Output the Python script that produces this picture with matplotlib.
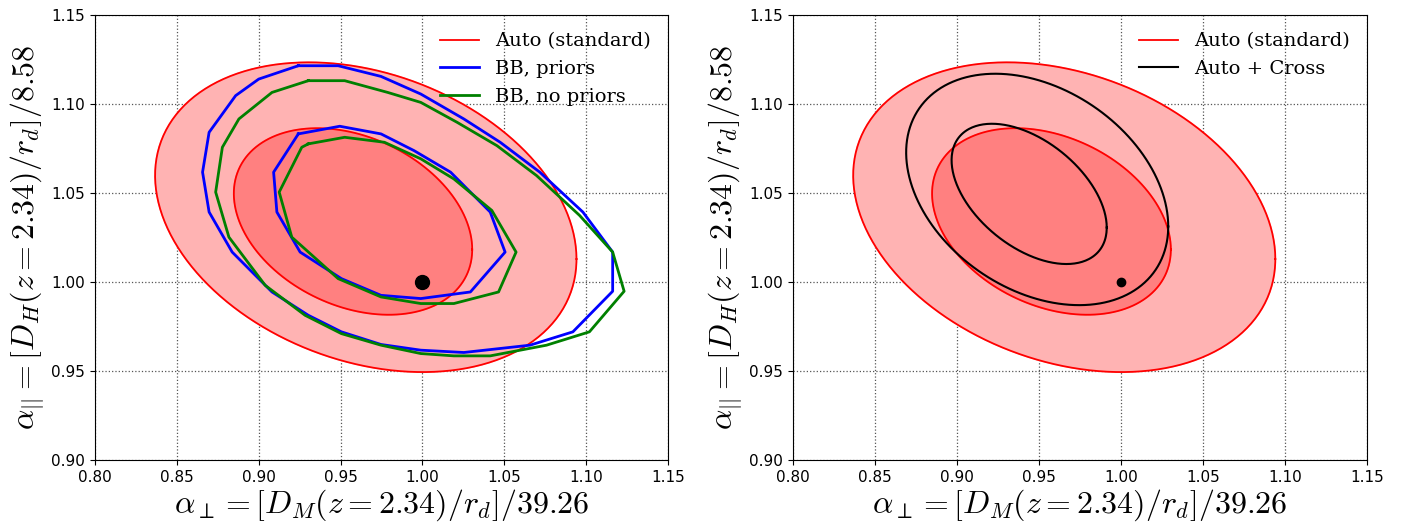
import numpy as np
import matplotlib
matplotlib.use("Agg")
import matplotlib.pyplot as plt

plt.rcParams['mathtext.fontset'] = 'cm'

# Gaussian-ellipse contours: (cx, cy, sx, sy, rho)
auto_outer = (0.9654, 1.0364, 0.1287, 0.0870, -0.27)
auto_inner = (0.9576, 1.0340, 0.0728, 0.0524, -0.30)
cross_outer = (0.9489, 1.0520, 0.0799, 0.0650, -0.32)
cross_inner = (0.9440, 1.0495, 0.0473, 0.0394, -0.48)

bb_pri_outer_x = [0.9242,0.9485,0.9747,0.999,1.0253,1.0475,1.0717,1.098,1.1162,1.1162,1.0919,1.0657,1.0253,0.999,0.9747,0.9505,0.9303,0.9081,0.8838,0.8697,0.8657,0.8697,0.8859,0.9,0.9242]
bb_pri_outer_y = [1.1215,1.1215,1.1155,1.1056,1.0916,1.0785,1.0617,1.0393,1.0168,0.9948,0.972,0.9645,0.9604,0.9617,0.9649,0.972,0.9813,0.9944,1.0168,1.0393,1.0617,1.0841,1.1047,1.114,1.1215]
bb_pri_inner_x = [0.9242,0.9495,0.9747,0.9949,1.0172,1.0414,1.0505,1.0293,0.999,0.9747,0.9505,0.9253,0.9111,0.9091,0.9242]
bb_pri_inner_y = [1.0832,1.0875,1.0832,1.0738,1.0617,1.0393,1.0168,0.9944,0.9907,0.9925,1.0019,1.0168,1.0393,1.0617,1.0832]
bb_nopri_outer_x = [0.9303,0.9525,0.9788,0.999,1.0212,1.0455,1.0697,1.096,1.1162,1.1232,1.102,1.0758,1.0414,1.0192,0.999,0.9747,0.9505,0.9283,0.904,0.8818,0.8737,0.8778,0.8879,0.9081,0.9303]
bb_nopri_outer_y = [1.1131,1.1131,1.1065,1.1009,1.0897,1.0766,1.0598,1.0374,1.0168,0.9948,0.972,0.9645,0.9585,0.9585,0.9598,0.9645,0.971,0.9813,0.9981,1.0252,1.0505,1.0757,1.0916,1.1065,1.1131]
bb_nopri_inner_x = [0.9303,0.9525,0.9768,0.999,1.0192,1.0424,1.0572,1.0465,1.0192,0.999,0.9747,0.9485,0.9202,0.9125,0.9263,0.9303]
bb_nopri_inner_y = [1.0776,1.0813,1.0785,1.0692,1.0579,1.0402,1.0168,0.9944,0.9879,0.9879,0.9916,1.0019,1.0252,1.0505,1.0757,1.0776]

fid = (1.0, 1.0)
xticks = [0.80,0.85,0.90,0.95,1.00,1.05,1.10,1.15]
yticks = [0.90,0.95,1.00,1.05,1.10,1.15]
xlabel = r'$\alpha_{\perp}=[D_M(z=2.34)/r_d]/39.26$'
ylabel = r'$\alpha_{||}=[D_H(z=2.34)/r_d]/8.58$'

def ell(p, n=300):
    cx, cy, sx, sy, r = p
    t = np.linspace(0, 2*np.pi, n)
    return cx + sx*np.cos(t), cy + sy*(r*np.cos(t) + np.sqrt(1-r*r)*np.sin(t))

fig = plt.figure(figsize=(14.11, 5.24), dpi=100)
ax1 = fig.add_axes([95/1411, 64/524, 573/1411, 445/524])
ax2 = fig.add_axes([793/1411, 64/524, 574/1411, 445/524])

for ax in (ax1, ax2):
    xo, yo = ell(auto_outer); xi, yi = ell(auto_inner)
    ax.fill(xo, yo, color='#ffb3b3', zorder=1)
    ax.fill(xi, yi, color='#ff8080', zorder=1)
    ax.plot(xo, yo, color='red', lw=1.3, zorder=2, label='Auto (standard)')
    ax.plot(xi, yi, color='red', lw=1.3, zorder=2)
    ax.set_xlim(0.80, 1.15); ax.set_ylim(0.90, 1.15)
    ax.set_xticks(xticks); ax.set_yticks(yticks)
    ax.set_xticklabels([f'{v:.2f}' for v in xticks], fontsize=11)
    ax.set_yticklabels([f'{v:.2f}' for v in yticks], fontsize=11)
    ax.grid(True, linestyle=':', color='#555555', lw=0.9, zorder=0)
    ax.set_axisbelow(True)
    ax.set_xlabel(xlabel, fontsize=23, labelpad=2)
    ax.set_ylabel(ylabel, fontsize=23)

ax1.plot(bb_pri_outer_x, bb_pri_outer_y, color='blue', lw=2, zorder=3, label='BB, priors')
ax1.plot(bb_pri_inner_x, bb_pri_inner_y, color='blue', lw=2, zorder=3)
ax1.plot(bb_nopri_outer_x, bb_nopri_outer_y, color='green', lw=2, zorder=3, label='BB, no priors')
ax1.plot(bb_nopri_inner_x, bb_nopri_inner_y, color='green', lw=2, zorder=3)
ax1.plot(*fid, 'o', color='black', ms=10, zorder=4)

xo, yo = ell(cross_outer); xi, yi = ell(cross_inner)
ax2.plot(xo, yo, color='black', lw=1.5, zorder=3, label='Auto + Cross')
ax2.plot(xi, yi, color='black', lw=1.5, zorder=3)
ax2.plot(*fid, 'o', color='black', ms=6, zorder=4)

for ax in (ax1, ax2):
    ax.legend(loc='upper right', frameon=False, prop={'family': 'DejaVu Serif', 'size': 14})

fig.savefig('out.png', dpi=100)
